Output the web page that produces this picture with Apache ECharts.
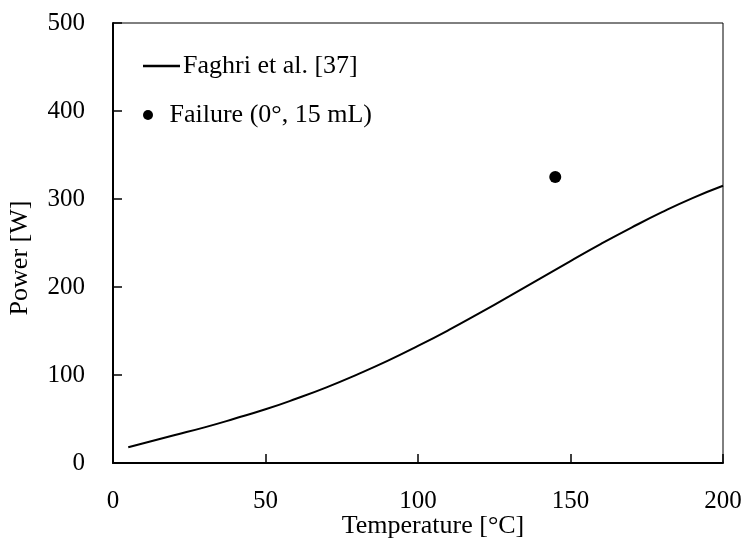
<!DOCTYPE html>
<html><head><meta charset="utf-8">
<script src="https://cdn.jsdelivr.net/npm/echarts@6/dist/echarts.min.js"></script>
<style>html,body{margin:0;padding:0;background:#fff}#c{width:746px;height:543px}</style>
</head><body><div id="c"></div>
<script>
const temps = [5, 10, 20, 30, 40, 50, 60, 70, 80, 90, 100, 110, 120, 130, 140, 150, 160, 170, 180, 190, 200];
const faghriPower = [18, 22.5, 31.5, 40.5, 50.5, 61, 73, 86, 100.5, 116, 133, 151, 170, 189.5, 209.5, 229.5, 249, 267.5, 285, 301, 315];
const failureTemp = [145];
const failurePower = [325];
const lineName = 'Faghri et al. [37]';
const pointName = 'Failure (0°, 15 mL)';
const xName = 'Temperature [°C]';
const yName = 'Power [W]';

const FONT = '"Liberation Serif", "DejaVu Serif", serif';
const chart = echarts.init(document.getElementById('c'));
chart.setOption({
  animation: false,
  textStyle: {fontFamily: FONT, color: '#000'},
  grid: {left: 113, right: 23, top: 23, bottom: 80, show: true, borderColor: '#000', borderWidth: 1,
         containLabel: false, outerBoundsMode: 'none'},
  legend: [
    {data: [{name: lineName, icon: 'rect'}], left: 138, top: 48, orient: 'vertical', itemWidth: 37, itemHeight: 2.5, itemGap: 0,
     textStyle: {fontFamily: FONT, fontSize: 26, color: '#000', padding: [0,0,0,-2]}},
    {data: [{name: pointName, icon: 'circle'}], left: 138, top: 97, orient: 'vertical', itemWidth: 37, itemHeight: 10, itemGap: 0,
     textStyle: {fontFamily: FONT, fontSize: 26, color: '#000', padding: [0,0,0,-2]}}
  ],
  xAxis: {
    type: 'value', min: 0, max: 200, interval: 50,
    name: xName, nameLocation: 'middle', nameGap: 50, nameMoveOverlap: false,
    nameTextStyle: {fontFamily: FONT, fontSize: 26, color: '#000', padding: [0, 0, 0, 30]},
    axisLine: {show: true, lineStyle: {color: '#000', width: 2}},
    axisTick: {show: true, inside: true, length: 9, lineStyle: {color: '#000', width: 1.5}},
    axisLabel: {fontFamily: FONT, fontSize: 25, color: '#000', margin: 26},
    splitLine: {show: false}
  },
  yAxis: {
    type: 'value', min: 0, max: 500, interval: 100,
    name: yName, nameLocation: 'middle', nameGap: 80, nameMoveOverlap: false,
    nameTextStyle: {fontFamily: FONT, fontSize: 26, color: '#000', padding: [0, 30, 0, 0]},
    axisLine: {show: true, lineStyle: {color: '#000', width: 2}},
    axisTick: {show: true, inside: true, length: 9, lineStyle: {color: '#000', width: 1.5}},
    axisLabel: {fontFamily: FONT, fontSize: 25, color: '#000', margin: 28},
    splitLine: {show: false}
  },
  series: [
    {name: lineName, type: 'line', data: temps.map((t, i) => [t, faghriPower[i]]),
     smooth: true, symbol: 'none', lineStyle: {color: '#000', width: 2}, itemStyle: {color: '#000'}},
    {name: pointName, type: 'scatter', data: failureTemp.map((t, i) => [t, failurePower[i]]),
     symbol: 'circle', symbolSize: 12, itemStyle: {color: '#000', opacity: 1}}
  ]
});
</script></body></html>
